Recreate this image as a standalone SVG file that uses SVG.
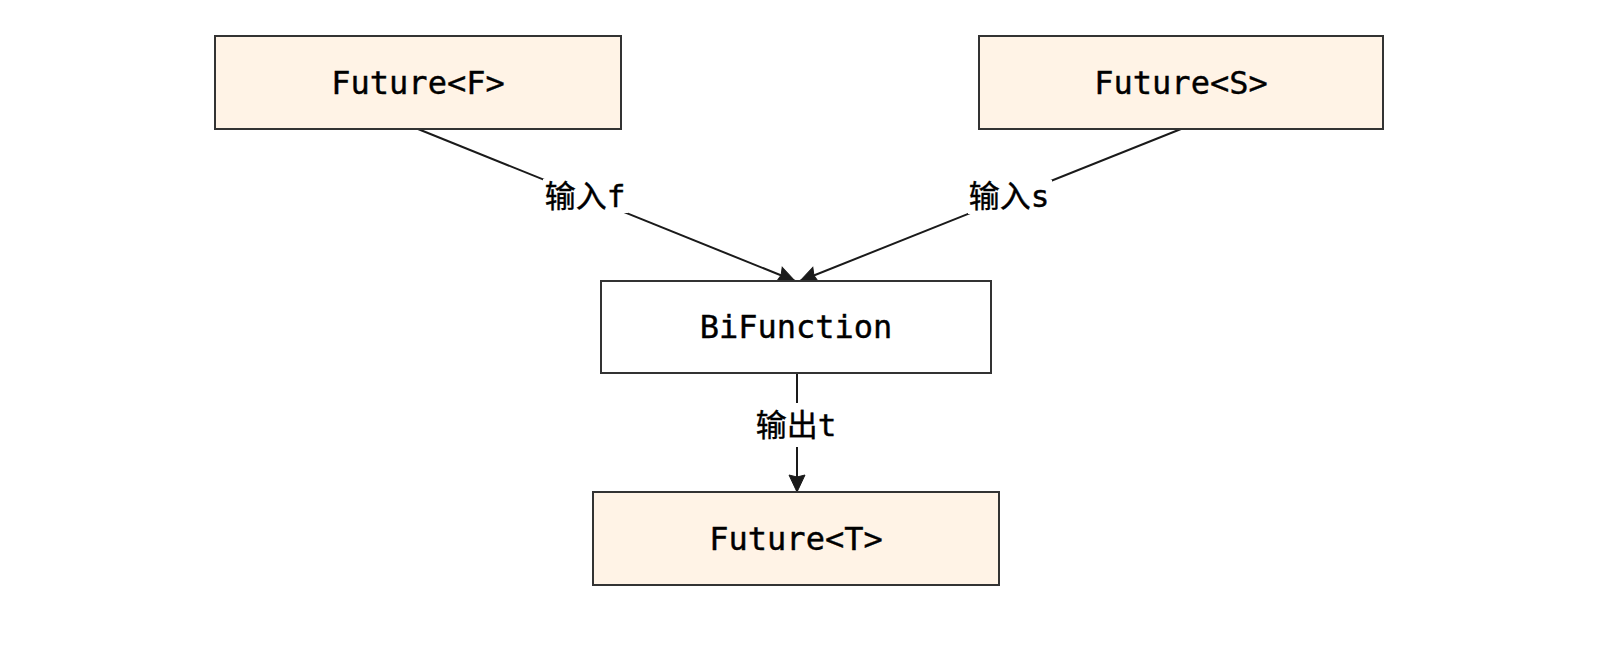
<svg xmlns="http://www.w3.org/2000/svg" width="1620" height="654" viewBox="0 0 1620 654">
<defs>
<style>
.box{stroke:#333333;stroke-width:2}
.fut{fill:#fff3e6}
.plain{fill:#ffffff}
.t{font-family:"DejaVu Sans Mono","Liberation Mono","Noto Sans CJK SC",monospace;font-size:32px;fill:#000000;stroke:#000000;stroke-width:0.4;text-anchor:middle}
.lbl{font-family:"DejaVu Sans Mono","Noto Sans CJK SC",monospace;font-size:31px;fill:#000000;stroke:#000000;stroke-width:0.4;text-anchor:middle}
.edge{stroke:#1a1a1a;stroke-width:2;fill:none}
.lblbg{fill:#ffffff}
</style>
<marker id="arr" markerUnits="userSpaceOnUse" markerWidth="24" markerHeight="24" viewBox="0 0 24 24" refX="20" refY="12" orient="auto">
<path d="M3,4 L20,12 L3,20 L5,12 Z" fill="#1a1a1a" stroke="#1a1a1a" stroke-width="1" stroke-linejoin="miter"/>
</marker>
</defs>
<rect width="1620" height="654" fill="#ffffff"/>
<g id="connectors">
<line class="edge" x1="418" y1="129" x2="795" y2="281" marker-end="url(#arr)"/>
<line class="edge" x1="1181" y1="129" x2="800" y2="281" marker-end="url(#arr)"/>
<line class="edge" x1="797" y1="373" x2="797" y2="492" marker-end="url(#arr)"/>
<rect class="lblbg" x="543" y="179" width="85" height="34"/>
<text class="lbl" x="585" y="207">输入f</text>
<rect class="lblbg" x="968" y="180" width="84" height="34"/>
<text class="lbl" x="1009" y="207">输入s</text>
<rect class="lblbg" x="755" y="403" width="82" height="44"/>
<text class="lbl" x="796" y="436">输出t</text>
</g>
<g id="futureF">
<rect class="box fut" x="215" y="36" width="406" height="93"/>
<text class="t" x="418" y="94">Future&lt;F&gt;</text>
</g>
<g id="futureS">
<rect class="box fut" x="979" y="36" width="404" height="93"/>
<text class="t" x="1181" y="94">Future&lt;S&gt;</text>
</g>
<g id="bifunction">
<rect class="box plain" x="601" y="281" width="390" height="92"/>
<text class="t" x="796" y="338">BiFunction</text>
</g>
<g id="futureT">
<rect class="box fut" x="593" y="492" width="406" height="93"/>
<text class="t" x="796" y="550">Future&lt;T&gt;</text>
</g>
</svg>
